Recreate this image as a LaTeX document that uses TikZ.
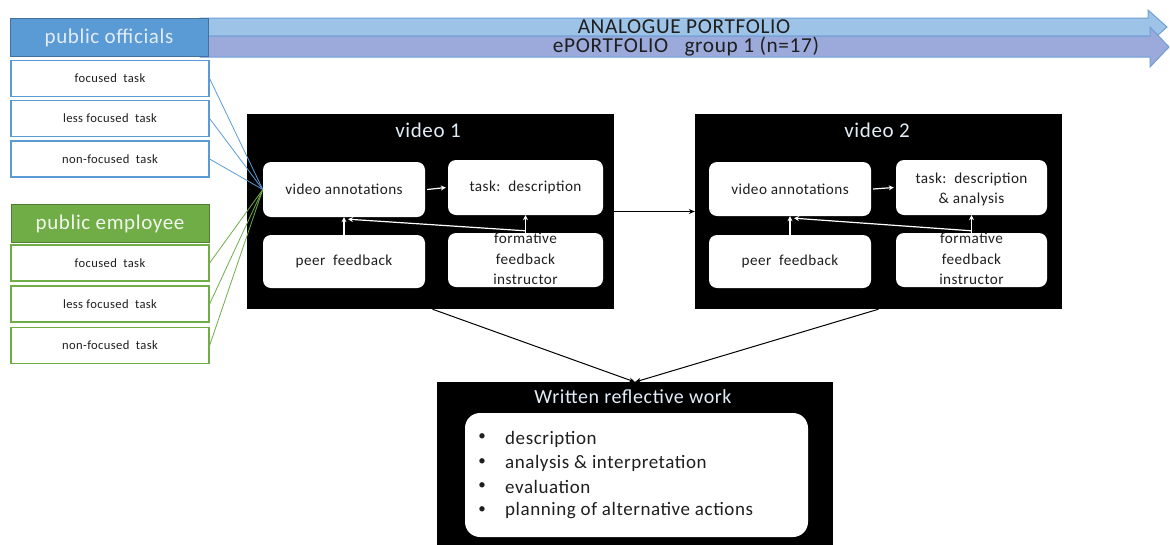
\documentclass[tikz,border=0pt]{standalone}
\usepackage{fontspec}
\setmainfont{Carlito}[LetterSpace=3]
\usetikzlibrary{arrows.meta}

\definecolor{offblue}{HTML}{5B9BD5}
\definecolor{offblueline}{HTML}{41719C}
\definecolor{empgreen}{HTML}{70AD47}
\definecolor{empgreenline}{HTML}{507E32}
\definecolor{bandtop}{HTML}{9DC3E6}
\definecolor{bandlow}{HTML}{9BAADA}
\definecolor{bandedge}{HTML}{6E9FD8}
\definecolor{inktext}{HTML}{1F1F1F}
\definecolor{paletext}{HTML}{E2ECF7}

\newcommand{\fsz}[1]{\fontsize{#1}{#1}\selectfont}

\tikzset{
  groupbox/.style={draw, line width=1pt, minimum width=198, minimum height=38,
    inner sep=0, font=\fsz{21}},
  taskbox/.style={draw, fill=white, line width=1.2pt, minimum width=198,
    minimum height=36, inner sep=0, text=inktext, font=\fsz{12.6}},
  darkbox/.style={fill=black, inner sep=0, minimum width=367, minimum height=195},
  innerbox/.style={fill=white, rounded corners=8, inner sep=0, minimum width=160,
    minimum height=54},
  innertext/.style={inner sep=0, text=inktext, align=center,
    font=\fontsize{15.2}{20.5}\selectfont},
  boxtitle/.style={inner sep=0, text=paletext, font=\fsz{21}},
  bandtext/.style={inner sep=0, text=inktext, font=\fsz{21.3}},
  bullettext/.style={inner sep=0, anchor=west, text=inktext, font=\fsz{19}},
  offlink/.style={draw=offblue, line width=0.8pt},
  emplink/.style={draw=empgreen, line width=0.8pt},
  whitearrow/.style={draw=white, line width=1.2pt, -{Stealth[length=5pt,width=5pt]}},
  blackarrow/.style={draw=black, line width=1pt, -{Stealth[length=6pt,width=5pt]}},
}

\begin{document}
\begin{tikzpicture}[x=1pt, y=-1pt]
\useasboundingbox (0,0) rectangle (1170,544);

% timeline bands
\fill[bandtop, draw=bandedge, line width=1pt]
  (200,18) -- (1148,18) -- (1148,10) -- (1167,27) -- (1148,44) -- (1148,36) -- (200,36) -- cycle;
\fill[bandlow, draw=bandedge, line width=1pt]
  (200,36) -- (1150,36) -- (1150,27) -- (1169,47) -- (1150,67) -- (1150,57) -- (200,57) -- cycle;
\node[bandtext] (analogue) at (684,27) {ANALOGUE PORTFOLIO};
\node[bandtext] (eport) at (686,47) {ePORTFOLIO\ \ \ group 1 (n=17)};

% participant groups
\node[groupbox, fill=offblue, draw=offblueline, text=paletext] (officials) at (109,37.5) {public officials};
\node[taskbox, draw=offblue] (ofa) at (110,78.5) {focused\ \ task};
\node[taskbox, draw=offblue] (ofb) at (110,118.5) {less focused\ \ task};
\node[taskbox, draw=offblue] (ofc) at (110,159) {non-focused\ \ task};

\node[groupbox, fill=empgreen, draw=empgreenline, text=white!90!empgreen] (employee) at (110,223.5) {public employee};
\node[taskbox, draw=empgreen] (ema) at (110,263) {focused\ \ task};
\node[taskbox, draw=empgreen] (emb) at (110,304) {less focused\ \ task};
\node[taskbox, draw=empgreen] (emc) at (110,345.5) {non-focused\ \ task};

% video 1
\node[darkbox] (video1) at (430.5,211.5) {};
\node[boxtitle] (v1title) at (428,130) {video 1};
\node[innerbox, minimum width=162, minimum height=55] (va1) at (344,189.5) {};
\node[innertext] at (va1.center) {video annotations};
\node[innerbox, minimum width=155, minimum height=55] (td1) at (525.5,187.5) {};
\node[innertext] at (td1.center) {task:\ \ description};
\node[innerbox, minimum width=162, minimum height=53] (pf1) at (344,261.5) {};
\node[innertext] at (pf1.center) {peer\ \ feedback};
\node[innerbox, minimum width=155, minimum height=54] (ff1) at (525.5,260) {};
\node[innertext] at (525.5,259) {formative\\feedback\\instructor};

% video 2
\node[darkbox] (video2) at (878.5,211.5) {};
\node[boxtitle] (v2title) at (877,130) {video 2};
\node[innerbox, minimum width=162, minimum height=54] (va2) at (790,189) {};
\node[innertext] at (va2.center) {video annotations};
\node[innerbox, minimum width=151, minimum height=55] (td2) at (971.5,187.5) {};
\node[innertext] at (971.5,189.5) {task:\ \ description\\\&\ analysis};
\node[innerbox, minimum width=162, minimum height=53] (pf2) at (790,261.5) {};
\node[innertext] at (pf2.center) {peer\ \ feedback};
\node[innerbox, minimum width=151, minimum height=54] (ff2) at (971.5,260) {};
\node[innertext] at (971.5,259) {formative\\feedback\\instructor};

% written reflective work
\fill[black] (437,382) rectangle (833,550);
\coordinate (written) at (635,382);
\node[boxtitle, font=\fsz{20}] (wtitle) at (633,397) {Written reflective work};
\fill[white, rounded corners=15] (465,413) rectangle (808,537);
\node[inner sep=0, text=inktext, font=\fsz{15}] (b1) at (482,437.5) {•};
\node[inner sep=0, text=inktext, font=\fsz{15}] (b2) at (482,462) {•};
\node[inner sep=0, text=inktext, font=\fsz{15}] (b3) at (482,486) {•};
\node[inner sep=0, text=inktext, font=\fsz{15}] (b4) at (482,510) {•};
\node[bullettext] (w1) at (505,439) {description};
\node[bullettext] (w2) at (505,463) {analysis \& interpretation};
\node[bullettext] (w3) at (505,487) {evaluation};
\node[bullettext] (w4) at (505,511) {planning of alternative actions};

% group links into the first annotation step
\draw[offlink] (ofa.east) -- (va1.west);
\draw[offlink] (ofb.east) -- (va1.west);
\draw[offlink] (ofc.east) -- (va1.west);
\draw[emplink] (ema.east) -- (va1.west);
\draw[emplink] (emb.east) -- (va1.west);
\draw[emplink] (emc.east) -- (va1.west);

% flow inside the video blocks
\draw[whitearrow] ([xshift=2pt]va1.east) -- ([xshift=-2pt]td1.west);
\draw[whitearrow] (pf1.north) -- (va1.south);
\draw[whitearrow] (ff1.north) -- (td1.south);
\draw[whitearrow] ([yshift=2pt]ff1.north) -- ([xshift=4pt,yshift=-2pt]va1.south);
\draw[whitearrow] ([xshift=2pt]va2.east) -- ([xshift=-2pt]td2.west);
\draw[whitearrow] (pf2.north) -- (va2.south);
\draw[whitearrow] (ff2.north) -- (td2.south);
\draw[whitearrow] ([yshift=2pt]ff2.north) -- ([xshift=4pt,yshift=-2pt]va2.south);

% between blocks
\draw[blackarrow] (video1.east) -- (video2.west);
\draw[blackarrow] ([xshift=2pt]video1.south) -- (written);
\draw[blackarrow] (video2.south) -- (written);
\end{tikzpicture}
\end{document}
